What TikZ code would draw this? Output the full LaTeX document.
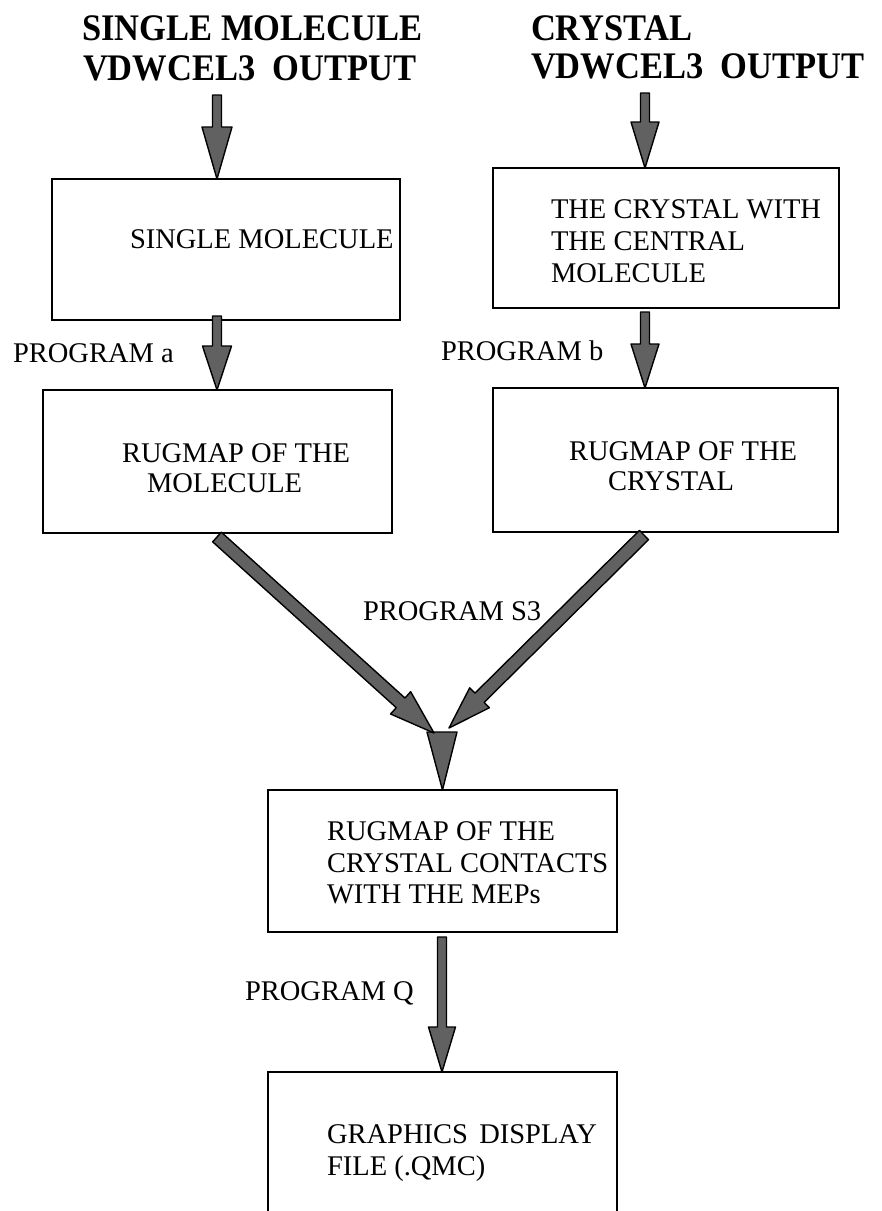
\documentclass[tikz,border=0pt]{standalone}
\usepackage{fontspec}
\setmainfont{Liberation Serif}
\newfontfamily\hdrfont{Liberation Serif}[FakeStretch=0.92]
\usetikzlibrary{calc}
\tikzset{
  box/.style={draw, line width=2.8pt, inner sep=0pt, outer sep=0pt, rectangle},
  txt/.style={anchor=base west, inner sep=0pt, outer sep=0pt, font=\fontsize{28.5}{31}\selectfont},
  hdr/.style={anchor=base west, inner sep=0pt, outer sep=0pt, font=\hdrfont\fontsize{37.5}{40}\selectfont\bfseries},
  blk/.style={fill=black!62, draw=black, line width=1.4pt, line join=round},
}
\newcommand{\blockarr}[5]{%
  \coordinate (ba-s) at (#1);
  \coordinate (ba-e) at (#2);
  \coordinate (ba-h) at ($(ba-e)!#5!(ba-s)$);
  \filldraw[blk] ($(ba-s)!#3!90:(ba-e)$) -- ($(ba-h)!#3!90:(ba-e)$) -- ($(ba-h)!#4!90:(ba-e)$) -- (ba-e) -- ($(ba-h)!#4!-90:(ba-e)$) -- ($(ba-h)!#3!-90:(ba-e)$) -- ($(ba-s)!#3!-90:(ba-e)$) -- cycle;
}
\begin{document}
\begin{tikzpicture}[x=1pt,y=-1pt]
\useasboundingbox (0,0) rectangle (882,1211);
\fill[white] (0,0) rectangle (882,1211);

% headers
\node[hdr] (h1a) at (82,40) {SINGLE MOLECULE};
\node[hdr] (h1b) at (83,80) {VDWCEL3\hspace{0.45em}OUTPUT};
\node[hdr] (h2a) at (531,40) {CRYSTAL};
\node[hdr] (h2b) at (531,78) {VDWCEL3\hspace{0.45em}OUTPUT};

% boxes
\node[box, minimum width=348pt, minimum height=141pt] (b1) at (226,249.5) {};
\node[box, minimum width=346pt, minimum height=140pt] (b2) at (666,238) {};
\node[box, minimum width=349pt, minimum height=143pt] (b3) at (217.5,461.5) {};
\node[box, minimum width=345pt, minimum height=144pt] (b4) at (665.5,460) {};
\node[box, minimum width=349pt, minimum height=142pt] (b5) at (442.5,861) {};
\node[inner sep=0pt, outer sep=0pt, minimum width=349pt, minimum height=160pt] (b6) at (442.5,1152) {};
\draw[line width=2.8pt] (b6.south west) |- (b6.north east) -- (b6.south east);

% box texts
\node[txt] (t1) at (130,248) {SINGLE MOLECULE};
\node[txt] (t2a) at (551,218) {THE CRYSTAL WITH};
\node[txt] (t2b) at (551,250) {THE CENTRAL};
\node[txt] (t2c) at (551,282) {MOLECULE};
\node[txt] (t3a) at (122,462) {RUGMAP OF THE};
\node[txt] (t3b) at (147,492) {MOLECULE};
\node[txt] (t4a) at (569,460) {RUGMAP OF THE};
\node[txt] (t4b) at (608,490) {CRYSTAL};
\node[txt] (t5a) at (327,840) {RUGMAP OF THE};
\node[txt] (t5b) at (327,872) {CRYSTAL CONTACTS};
\node[txt] (t5c) at (327,903) {WITH THE MEPs};
\node[txt] (t6a) at (327,1143) {GRAPHICS\hspace{0.4em}DISPLAY};
\node[txt] (t6b) at (327,1175) {FILE (.QMC)};

% labels
\node[txt] (la) at (13,362) {PROGRAM a};
\node[txt] (lb) at (441,360) {PROGRAM b};
\node[txt] (ls) at (363,620) {PROGRAM S3};
\node[txt] (lq) at (245,1000) {PROGRAM Q};

% arrow start points
\coordinate (s1) at (217,95);
\coordinate (s2) at (645,93);
\coordinate (sa) at (217,316);
\coordinate (sb) at (645,312);
\coordinate (sl) at (217,537);
\coordinate (sr) at (644,535);
\coordinate (tl) at (434,733);
\coordinate (tr) at (449,728);
\coordinate (j) at (442,732);
\coordinate (sq) at (442,937);

\blockarr{s1}{s1 |- b1.north}{4.5pt}{15pt}{52pt}
\blockarr{s2}{s2 |- b2.north}{4.5pt}{14pt}{46pt}
\blockarr{sa}{sa |- b3.north}{4.5pt}{14.5pt}{44pt}
\blockarr{sb}{sb |- b4.north}{4.5pt}{14pt}{44pt}
\filldraw[blk] ($(j)+(-15,0)$) -- ($(j)+(15,0)$) -- (b5.north) -- cycle;
\blockarr{sl}{tl}{6.5pt}{15pt}{45pt}
\blockarr{sr}{tr}{6.5pt}{14pt}{43pt}
\blockarr{sq}{sq |- b6.north}{4.5pt}{13.5pt}{45pt}
\end{tikzpicture}
\end{document}
